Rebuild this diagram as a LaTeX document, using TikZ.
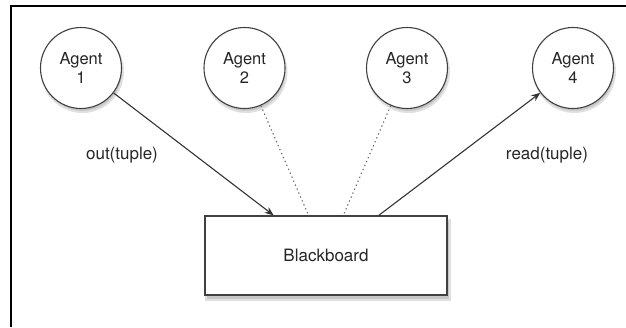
\documentclass[tikz,border=0pt]{standalone}
\usepackage{fontspec}
\setmainfont{TeX Gyre Heros}
\usetikzlibrary{arrows.meta,backgrounds}

\begin{document}
\begin{tikzpicture}[x=1pt,y=-1pt,
	agent/.style={circle,draw=black!75,line width=1.1pt,fill=white,minimum size=81pt,inner sep=0pt,align=center,
		font=\fontsize{16.5}{19.5}\selectfont,text=black!85},
	board/.style={rectangle,draw=black!75,line width=1.2pt,fill=white,minimum width=242pt,minimum height=79pt,
		font=\fontsize{17}{20}\selectfont,text=black!85},
	shade/.style={fill=black!22,draw=black!12,line width=2pt},
	msg/.style={font=\fontsize{17}{20}\selectfont,text=black!85}]
		\useasboundingbox (0,0) rectangle (626,327);
		\draw[line width = 1.5pt] (11,327) -- (11,6) -- (626,6);
		\node[agent] (a1) at (81,68){Agent\\1};
		\node[agent] (a2) at (244.5,68){Agent\\2};
		\node[agent] (a3) at (407,68){Agent\\3};
		\node[agent] (a4) at (573,68){Agent\\4};
		\node[board] (bb) at (326,255.5){Blackboard};
		% soft shadows under the shapes
		\begin{pgfonlayer}{background}
			\foreach \n in {a1,a2,a3,a4}
				\fill[shade] ([shift={(1.5,3.5)}]\n.center) circle (40.5);
			\fill[shade] ([shift={(2,4.5)}]bb.north west) rectangle ([shift={(2,4.5)}]bb.south east);
		\end{pgfonlayer}
		\draw[-{Stealth[length=9pt,width=7pt]},line width = 1.1pt,color = black!80] (a1) -- (bb);
		\draw[-{Stealth[length=9pt,width=7pt]},line width = 1.1pt,color = black!80] (bb) -- (a4);
		\draw[dash pattern=on 1.3pt off 3pt,line width = 1.1pt,color = black!60] (a2) -- (bb);
		\draw[dash pattern=on 1.3pt off 3pt,line width = 1.1pt,color = black!60] (a3) -- (bb);
		\node[msg] (out) at (122,155){out(tuple)};
		\node[msg] (read) at (547,155){read(tuple)};
\end{tikzpicture}
\end{document}
